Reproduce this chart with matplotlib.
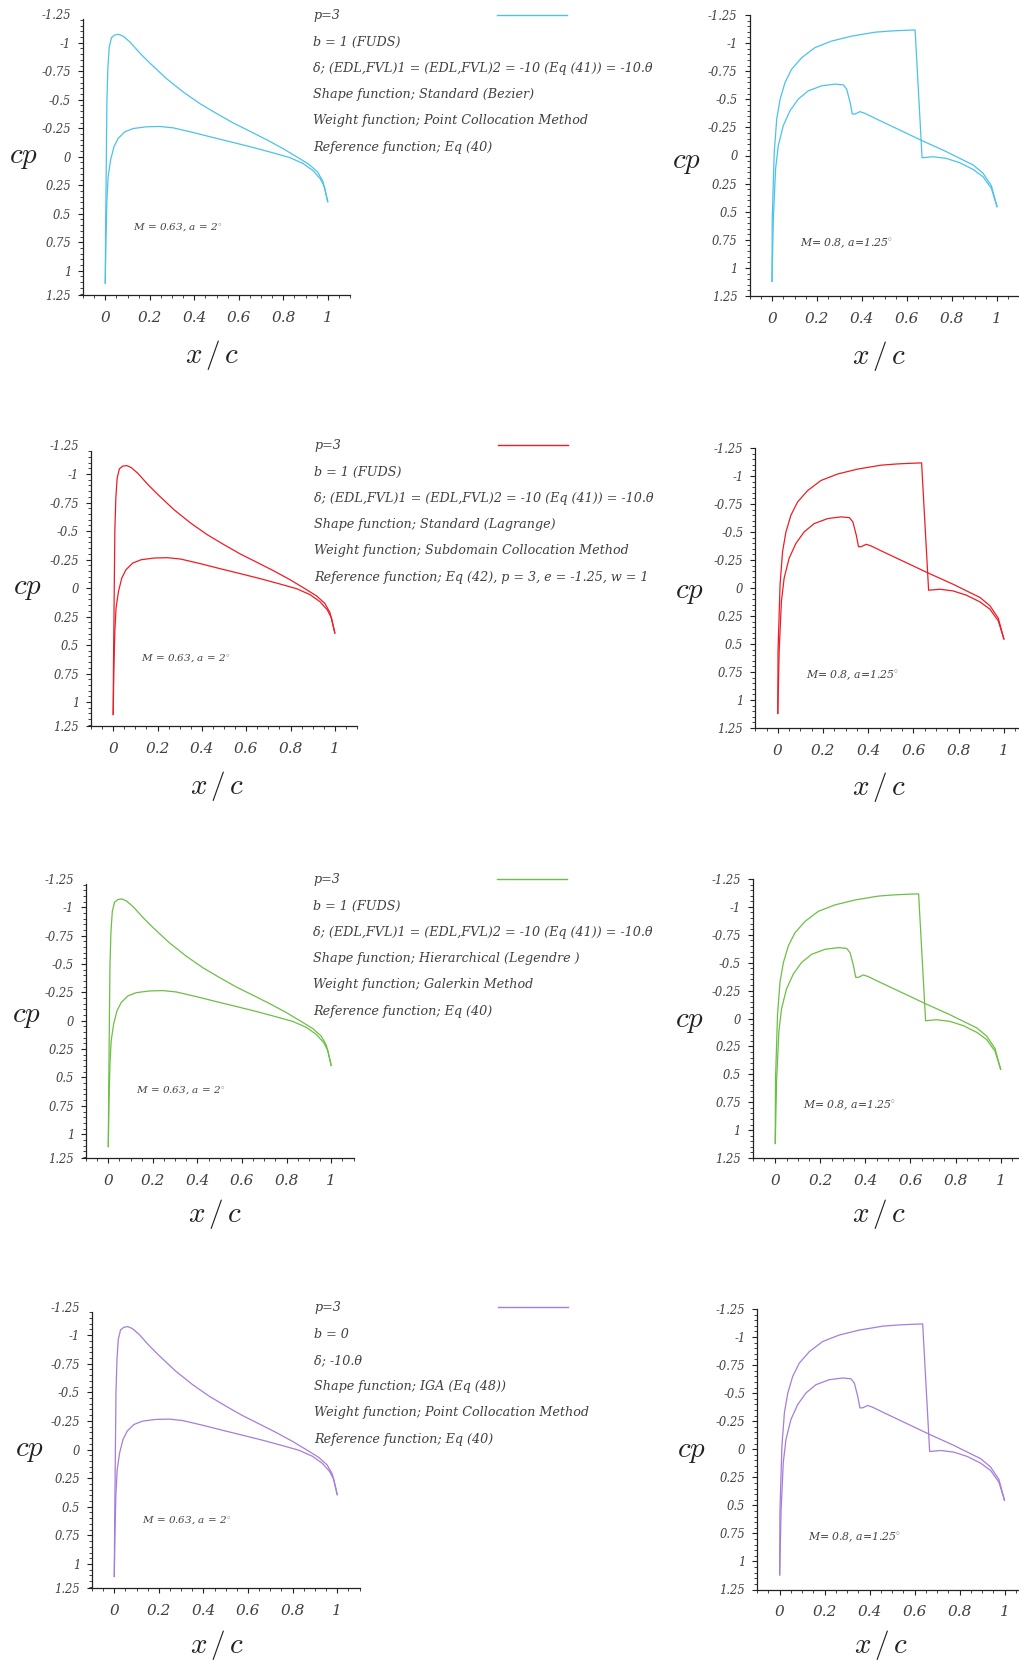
import matplotlib
matplotlib.use("Agg")
import matplotlib.pyplot as plt
from matplotlib.lines import Line2D
from matplotlib.ticker import FixedLocator, FixedFormatter, MultipleLocator

# ---------------------------------------------------------
# data (same curves in every row)
# ---------------------------------------------------------
# M = 0.63, a = 2 deg
sub_x_upper = [0, 0.0015, 0.0045, 0.0075, 0.012, 0.018, 0.028, 0.043, 0.061, 0.081, 0.111,
               0.155, 0.2, 0.275, 0.35, 0.425, 0.5, 0.574, 0.649, 0.723, 0.798, 0.873,
               0.918, 0.955, 0.978, 1.0]
sub_cp_upper = [1.109, 0.672, 0.088, -0.496, -0.788, -0.964, -1.045, -1.069, -1.074, -1.057,
                -1.007, -0.911, -0.823, -0.686, -0.569, -0.467, -0.380, -0.298, -0.225,
                -0.152, -0.073, 0.015, 0.070, 0.135, 0.215, 0.394]
sub_x_lower = [0, 0.003, 0.0075, 0.013, 0.024, 0.039, 0.058, 0.088, 0.126, 0.185, 0.245,
               0.305, 0.395, 0.484, 0.574, 0.664, 0.753, 0.828, 0.888, 0.933, 0.966, 0.985, 1.0]
sub_cp_lower = [1.109, 0.730, 0.380, 0.175, 0.029, -0.088, -0.161, -0.219, -0.248, -0.263,
                -0.266, -0.254, -0.213, -0.169, -0.126, -0.082, -0.035, 0.006, 0.058,
                0.120, 0.192, 0.263, 0.394]

# M = 0.8, a = 1.25 deg
tr_x_upper = [0, 0.001, 0.010, 0.021, 0.036, 0.058, 0.087, 0.132, 0.191, 0.265, 0.354, 0.458,
              0.53, 0.583, 0.636, 0.667, 0.716, 0.775, 0.834, 0.894, 0.938, 0.975, 1.0]
tr_cp_upper = [1.12, 0.56, -0.03, -0.325, -0.50, -0.65, -0.767, -0.87, -0.96, -1.018, -1.062,
               -1.097, -1.108, -1.113, -1.117, 0.02, 0.011, 0.026, 0.064, 0.124, 0.189,
               0.293, 0.455]
tr_x_lower = [0, 0.006, 0.016, 0.028, 0.050, 0.080, 0.117, 0.161, 0.221, 0.28, 0.317, 0.332,
              0.347, 0.357, 0.369, 0.391, 0.413, 0.458, 0.667, 0.775, 0.834, 0.894, 0.938,
              0.975, 1.0]
tr_cp_lower = [1.12, 0.56, 0.118, -0.088, -0.265, -0.398, -0.502, -0.575, -0.62, -0.635,
               -0.628, -0.59, -0.473, -0.369, -0.369, -0.39, -0.375, -0.331, -0.132, -0.034,
               0.025, 0.084, 0.158, 0.269, 0.455]

row_colors = ['#4cc2ea', '#ee1c25', '#6cbf45', '#a57ddb']

row_notes = [
    ["b = 1 (FUDS)",
     "δ; (EDL,FVL)1 = (EDL,FVL)2 = -10 (Eq (41)) = -10.θ",
     "Shape function; Standard (Bezier)",
     "Weight function; Point Collocation Method",
     "Reference function; Eq (40)"],
    ["b = 1 (FUDS)",
     "δ; (EDL,FVL)1 = (EDL,FVL)2 = -10 (Eq (41)) = -10.θ",
     "Shape function; Standard (Lagrange)",
     "Weight function; Subdomain Collocation Method",
     "Reference function; Eq (42), p = 3, e = -1.25, w = 1"],
    ["b = 1 (FUDS)",
     "δ; (EDL,FVL)1 = (EDL,FVL)2 = -10 (Eq (41)) = -10.θ",
     "Shape function; Hierarchical (Legendre )",
     "Weight function; Galerkin Method",
     "Reference function; Eq (40)"],
    ["b = 0",
     "δ; -10.θ",
     "Shape function; IGA (Eq (48))",
     "Weight function; Point Collocation Method",
     "Reference function; Eq (40)"],
]
legend_label = "p=3"

left_note = r"M = 0.63, a = 2$^{\circ}$"
right_note = r"M= 0.8, a=1.25$^{\circ}$"

x_ticks = [0, 0.2, 0.4, 0.6, 0.8, 1]
x_tick_labels = ['0', '0.2', '0.4', '0.6', '0.8', '1']
y_tick_labels = ['-1.25', '-1', '-0.75', '-0.5', '-0.25', '0', '0.25', '0.5', '0.75', '1', '1.25']

# ---------------------------------------------------------
# layout (pixels in a 1019 x 1662 canvas)
# ---------------------------------------------------------
W, H = 1019, 1662
left_boxes = [(83, 14.3, 350, 294.7), (91, 445.5, 357, 726),
              (86, 879, 353.5, 1158), (92, 1306.5, 359.5, 1588)]
right_boxes = [(749.5, 15, 1019.5, 296), (755.2, 448, 1026.5, 728),
               (752.7, 879, 1023.2, 1158), (757.2, 1309, 1027, 1589.5)]
left_xlabel = [(212, 355), (217.4, 786), (215, 1214), (217.4, 1645)]
right_xlabel = [(879, 356), (879, 787), (879, 1214), (881, 1645)]
left_ylabel = [(23, 157), (27.6, 588.5), (26.5, 1016), (29.7, 1449.6)]
right_ylabel = [(686, 162), (689, 592), (689, 1021), (691, 1450.6)]
note_x = [313, 314, 313, 314]
note_y = [16, 446, 880, 1308]
note_step = 26.2

plt.rcParams['mathtext.fontset'] = 'cm'
SERIF = 'DejaVu Serif'
TXT = '#404040'


def px_rect(box):
    l, t, r, b = box
    return [l / W, 1 - b / H, (r - l) / W, (b - t) / H]


def px_to_axes(box, pt):
    l, t, r, b = box
    return (pt[0] - l) / (r - l), (b - pt[1]) / (b - t)


def style_axes(ax, box, ylim, ytick_pos, spine_top, xl, yl):
    ax.set_xlim(-0.1, 1.1)
    ax.set_ylim(ylim[1], ylim[0])
    for s in ['top', 'right']:
        ax.spines[s].set_visible(False)
    for s in ['left', 'bottom']:
        ax.spines[s].set_color('#222222')
        ax.spines[s].set_linewidth(0.9)
    ax.spines['left'].set_bounds(spine_top, ylim[1])
    ax.xaxis.set_major_locator(FixedLocator(x_ticks))
    ax.xaxis.set_major_formatter(FixedFormatter(x_tick_labels))
    ax.xaxis.set_minor_locator(MultipleLocator(0.05))
    ax.yaxis.set_major_locator(FixedLocator(ytick_pos))
    ax.yaxis.set_major_formatter(FixedFormatter(y_tick_labels))
    ax.yaxis.set_minor_locator(MultipleLocator(0.05))
    ax.tick_params(which='major', direction='out', length=3.5, width=0.8, color='#222222')
    ax.tick_params(which='minor', direction='out', length=2, width=0.6, color='#222222')
    ax.tick_params(axis='x', labelsize=11, labelcolor=TXT, pad=8)
    ax.tick_params(axis='y', labelsize=8.3, labelcolor=TXT, pad=5)
    for lab in ax.get_xticklabels() + ax.get_yticklabels():
        lab.set_family(SERIF)
        lab.set_style('italic')
    if spine_top > ylim[0]:
        # the top label sits a little above the end of the axis line
        ax.yaxis.get_major_ticks()[0].tick1line.set_visible(False)
    ax.set_xlabel(r'$x\,/\,c$', fontsize=21, color='#222222', va='center')
    ax.set_ylabel(r'$cp$', fontsize=21, color='#222222', rotation=0, va='center')
    ax.xaxis.set_label_coords(*px_to_axes(box, xl))
    ax.yaxis.set_label_coords(*px_to_axes(box, yl))


fig = plt.figure(figsize=(W / 100, H / 100), dpi=100)

for i in range(4):
    c = row_colors[i]

    axl = fig.add_axes(px_rect(left_boxes[i]))
    axl.plot(sub_x_upper, sub_cp_upper, color=c, lw=0.9)
    axl.plot(sub_x_lower, sub_cp_lower, color=c, lw=0.9)
    style_axes(axl, left_boxes[i], (-1.25, 1.21),
               [-1.25, -1, -0.75, -0.5, -0.25, 0, 0.25, 0.5, 0.75, 1, 1.21],
               -1.205, left_xlabel[i], left_ylabel[i])
    axl.text(0.124, 0.622, left_note, fontsize=7.5, color=TXT, family=SERIF,
             style='italic', ha='left', va='center')

    axr = fig.add_axes(px_rect(right_boxes[i]))
    axr.plot(tr_x_upper, tr_cp_upper, color=c, lw=0.9)
    axr.plot(tr_x_lower, tr_cp_lower, color=c, lw=0.9)
    style_axes(axr, right_boxes[i], (-1.25, 1.25),
               [-1.25, -1, -0.75, -0.5, -0.25, 0, 0.25, 0.5, 0.75, 1, 1.25],
               -1.25, right_xlabel[i], right_ylabel[i])
    axr.text(0.124, 0.78, right_note, fontsize=7.8, color=TXT, family=SERIF,
             style='italic', ha='left', va='center')

    # legend entry "p=3 ----" and the description lines
    fig.legend(handles=[Line2D([], [], color=c, lw=1.0)], labels=[legend_label],
               loc='center left', bbox_to_anchor=(note_x[i] / W, 1 - note_y[i] / H),
               bbox_transform=fig.transFigure, frameon=False, markerfirst=False,
               borderpad=0, borderaxespad=0, handlelength=5.5, handletextpad=12.3,
               prop={'family': SERIF, 'style': 'italic', 'size': 9.2},
               labelcolor=TXT)
    for k, line in enumerate(row_notes[i]):
        fig.text(note_x[i] / W, 1 - (note_y[i] + note_step * (k + 1)) / H, line,
                 fontsize=9.2, color=TXT, family=SERIF, style='italic',
                 ha='left', va='center')

fig.savefig('out.png', dpi=100, facecolor='white')
